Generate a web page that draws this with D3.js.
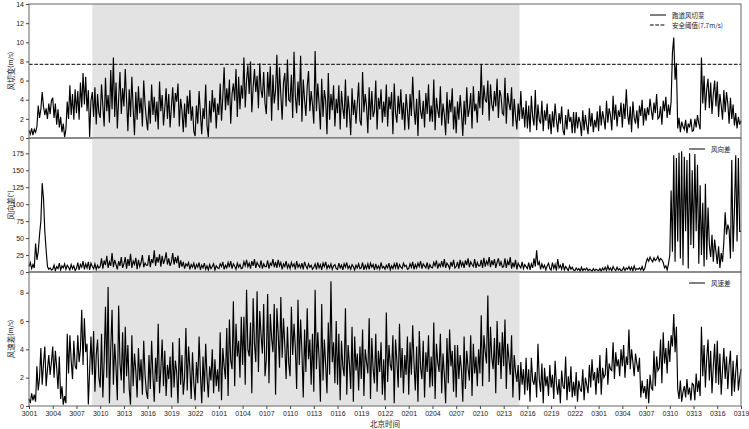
<!DOCTYPE html>
<html>
<head>
<meta charset="utf-8">
<script src="https://cdn.jsdelivr.net/npm/d3@7/dist/d3.min.js"></script>
<style>
  body { margin: 0; background: #fff; }
  text { font-family: "Liberation Sans", Arial, sans-serif; fill: #222; }
  .cjk { font-family: "Noto Sans CJK SC", sans-serif; }
</style>
</head>
<body>
<svg id="chart" width="749" height="429"></svg>
<script>
// x tick labels, one every 3 hours (DDHH)
var tickLabels = ["3001","3004","3007","3010","3013","3016","3019","3022",
  "0101","0104","0107","0110","0113","0116","0119","0122",
  "0201","0204","0207","0210","0213","0216","0219","0222",
  "0301","0304","0307","0310","0313","0316","0319"];

var shadeFrom = 8, shadeTo = 62;   // hours after 3001, grey band
var threshold = 7.7;
var step = 1 / 6;                  // 10 minute readings

// each line = 3 hours
var shear = [
  0.8,0.4,1.0,0.3,0.9,0.6,1.2,3.4,2.1,3.0,4.8,3.3,2.4,3.1,2.0,3.6,2.5,3.9,
  4.2,2.1,3.6,1.4,3.0,1.1,2.2,0.6,1.5,0.1,0.9,3.8,2.0,5.5,2.4,4.6,1.9,5.1,
  2.6,4.9,1.9,5.8,3.2,6.8,3.5,6.4,2.8,5.0,0.1,3.9,4.8,2.2,5.3,1.4,4.6,2.6,
  2.1,5.6,3.4,1.2,6.3,2.8,4.5,1.6,7.1,3.0,8.4,2.2,5.8,1.0,4.1,6.9,2.5,5.2,
  3.3,7.2,4.0,0.7,5.1,2.2,6.4,3.1,0.3,4.8,1.9,5.4,2.6,4.2,1.2,6.0,3.5,2.0,
  0.8,3.9,1.5,5.6,2.4,4.3,1.7,3.8,0.9,5.9,2.8,4.5,1.3,3.1,5.2,2.0,4.6,1.1,
  3.2,5.3,2.1,4.7,3.8,5.7,1.2,4.1,2.9,0.6,3.6,1.1,4.4,2.5,5.0,1.8,3.3,0.7,
  0.2,3.4,1.5,4.9,2.6,0.4,3.1,2.0,5.6,1.3,0.1,3.9,1.6,5.0,2.7,4.2,1.0,3.6,
  2.4,5.7,1.8,4.3,7.4,2.9,5.2,3.4,6.1,1.5,4.6,5.7,3.9,7.2,2.2,6.4,3.0,5.5,
  4.1,8.4,3.2,6.0,7.6,4.6,8.0,2.7,5.3,7.2,4.8,6.5,3.1,7.8,5.0,4.2,6.9,3.6,
  2.5,6.9,4.3,7.5,1.8,6.6,3.6,5.0,8.7,2.9,7.4,4.5,1.9,5.8,6.8,3.3,8.2,4.0,
  3.8,6.6,2.1,9.0,4.4,2.6,5.9,3.4,8.6,1.7,6.1,4.0,2.3,5.4,7.0,2.8,4.9,3.5,
  1.5,9.1,2.8,5.7,3.6,0.9,6.2,2.2,5.0,3.9,0.4,6.8,1.9,4.6,2.9,5.5,1.2,4.1,
  2.6,5.5,0.9,4.9,3.1,2.0,6.1,1.1,4.4,2.7,0.3,5.2,2.4,4.0,1.5,3.6,5.8,1.8,
  1.3,6.9,2.7,4.6,3.3,0.5,5.3,1.9,4.9,2.2,2.8,6.0,0.9,4.2,3.0,5.1,1.6,3.8,
  2.2,5.6,1.2,4.3,3.0,4.8,0.4,5.7,2.6,1.6,4.4,2.5,5.1,1.9,3.7,0.8,4.6,2.9,
  0.9,4.6,2.3,6.4,3.1,1.4,4.1,0.2,5.0,2.8,2.0,3.9,1.1,4.7,2.5,5.6,1.7,3.4,
  1.7,6.1,0.8,4.2,2.9,2.1,5.4,1.3,3.6,2.4,0.3,4.8,1.5,4.0,2.7,5.2,0.9,3.3,
  0.5,3.8,1.9,4.5,2.6,0.2,3.9,1.4,5.3,2.2,3.0,4.7,1.0,5.4,2.8,3.6,1.6,4.9,
  3.1,7.7,2.4,5.5,4.0,3.7,6.0,1.8,5.6,3.5,2.8,4.9,3.3,6.2,2.1,5.0,4.4,2.6,
  2.4,6.3,1.5,4.7,3.6,2.9,5.3,1.2,4.1,2.3,0.9,3.6,1.8,4.9,2.0,3.2,1.1,3.9,
  1.0,3.4,0.6,4.4,2.2,1.3,5.0,0.8,3.5,1.9,1.5,3.9,0.7,2.9,1.8,3.6,0.9,2.5,
  0.4,2.8,1.1,3.6,1.9,0.6,2.6,1.5,3.3,0.8,0.3,2.4,0.9,3.0,1.7,2.2,0.5,2.7,
  0.5,2.7,1.0,2.2,1.6,0.2,2.9,0.8,2.4,1.3,0.4,3.1,1.2,2.6,0.6,1.9,1.1,2.8,
  0.7,3.4,1.3,2.8,2.0,0.9,3.9,1.6,3.1,2.4,0.8,4.4,1.9,3.5,1.2,2.9,2.2,3.7,
  1.1,3.6,2.0,5.1,2.5,1.4,3.3,0.6,3.8,2.1,1.5,2.9,1.0,3.4,2.3,4.0,1.3,3.1,
  1.8,3.2,2.4,4.1,2.9,1.9,3.7,2.6,4.6,2.0,2.2,3.3,1.4,3.9,2.8,4.3,2.1,3.5,
  2.4,3.8,8.9,10.5,6.1,7.8,1.0,2.1,0.6,1.7,1.2,0.9,1.9,0.5,1.5,1.1,2.0,0.7,
  0.8,2.0,1.1,2.4,1.5,0.9,8.4,3.6,6.5,2.9,5.1,6.2,3.1,5.8,2.5,4.6,6.0,3.3,
  5.9,2.2,4.6,3.4,1.9,5.0,2.7,4.8,3.6,1.5,4.2,2.0,3.5,1.3,2.6,1.0,2.2,1.4,
  1.8];

var dirDiff = [
  8,14,5,11,6,42,18,30,55,75,131,108,60,32,8,4,6,3,
  4,10,2,8,5,13,3,9,6,12,4,10,7,3,11,5,9,2,
  5,14,3,11,7,16,4,12,6,15,3,13,8,5,12,4,10,6,
  8,20,5,17,10,24,6,15,9,28,7,18,11,4,16,9,22,6,
  12,22,5,19,9,27,6,16,11,21,4,18,8,14,25,7,13,10,
  10,25,7,19,13,32,9,22,14,26,8,24,12,18,29,11,20,9,
  15,28,11,22,13,24,6,17,8,15,5,12,9,14,4,11,7,13,
  4,11,7,14,3,10,6,13,4,9,3,11,5,8,12,3,9,6,
  5,12,8,15,4,10,6,14,7,16,5,12,9,4,13,7,11,5,
  6,15,9,18,8,13,5,16,9,19,6,14,10,7,17,5,12,8,
  8,17,5,13,10,19,7,15,6,18,9,14,4,12,8,16,6,11,
  5,14,8,12,4,16,7,11,6,13,4,15,9,5,12,7,10,4,
  7,12,4,14,6,11,3,13,8,15,5,10,6,12,4,9,11,5,
  4,13,6,10,3,12,7,14,5,9,4,11,8,3,10,6,12,5,
  6,14,3,10,5,12,4,13,7,11,3,12,5,9,4,14,6,8,
  4,10,6,13,3,9,5,12,6,14,4,11,7,5,13,8,10,4,
  5,12,7,15,4,11,6,13,8,16,5,12,9,6,14,4,11,7,
  6,14,9,17,5,12,8,16,7,19,6,13,10,5,15,8,18,6,
  8,15,5,18,9,14,6,17,10,20,7,15,11,8,19,6,14,9,
  9,18,6,21,8,16,11,22,7,17,10,19,6,14,20,9,15,7,
  8,20,6,16,10,22,5,14,7,18,4,13,9,6,15,5,11,8,
  5,14,3,12,6,20,8,32,10,15,4,12,6,10,3,9,13,5,
  3,14,5,11,2,19,6,10,4,13,3,8,5,2,9,4,7,3,
  2,6,3,5,1,7,2,5,3,6,2,4,3,1,5,2,4,3,
  2,5,1,6,3,7,2,9,3,6,2,8,4,2,7,3,5,2,
  3,7,2,6,4,8,3,7,2,9,3,5,4,6,3,8,2,5,
  14,20,16,22,18,15,21,17,19,23,16,20,18,14,6,9,3,12,
  25,120,30,172,15,168,45,176,20,178,10,170,60,165,5,175,40,150,
  35,174,60,158,12,128,25,102,8,130,18,95,40,22,55,15,48,30,
  12,38,6,28,15,45,88,55,70,62,20,165,30,90,172,45,168,60,
  60];

var spdDiff = [
  0.5,0.2,0.9,0.4,0.8,0.3,2.8,1.1,2.0,4.1,1.5,3.0,4.2,1.4,2.6,3.6,2.2,3.1,
  4.2,2.0,3.9,2.7,1.2,3.5,0.5,1.4,0.1,0.7,0.2,5.1,2.3,5.0,3.2,1.9,4.6,2.8,
  2.6,5.0,3.1,4.0,6.8,2.9,6.2,3.8,4.4,0.1,2.5,4.9,2.2,5.3,1.0,3.6,4.7,2.0,
  1.3,5.1,0.6,3.2,7.0,2.0,8.4,0.2,4.1,6.8,1.5,4.4,2.7,0.4,7.1,3.0,1.8,5.2,
  0.9,5.6,2.1,4.3,1.2,0.1,5.0,1.4,3.7,2.5,0.6,4.1,1.8,3.3,0.8,4.6,2.2,1.0,
  0.5,3.6,1.2,4.6,2.1,0.3,3.4,1.7,5.8,0.9,2.6,4.7,1.4,3.9,0.7,2.9,1.9,3.5,
  0.6,4.5,1.3,3.2,2.4,0.2,4.8,1.5,3.6,0.8,2.0,5.5,1.1,4.2,2.7,0.5,3.8,1.6,
  0.4,3.1,1.6,4.9,2.3,0.2,3.5,1.0,4.4,2.1,0.6,2.8,1.8,4.0,0.9,3.3,1.4,2.6,
  1.0,5.2,0.4,4.1,2.8,1.9,5.5,0.7,6.1,3.2,2.6,7.4,1.4,5.8,3.5,4.6,2.0,6.3,
  2.9,6.3,1.5,8.2,4.0,3.5,5.9,0.9,7.6,4.4,3.1,8.1,2.4,6.7,5.0,3.7,7.2,2.1,
  3.3,7.9,1.6,6.5,4.8,3.8,7.2,0.8,6.9,5.1,2.7,7.7,3.4,6.2,4.3,1.9,5.6,3.0,
  2.1,7.0,3.6,5.8,4.1,1.2,7.5,2.9,6.1,3.8,0.6,5.4,2.4,6.9,3.3,4.7,1.5,5.1,
  1.0,8.2,2.6,5.2,3.4,0.3,7.2,1.8,4.7,2.9,0.9,5.9,2.2,8.8,3.1,4.5,1.6,6.0,
  1.5,5.1,0.4,4.6,2.8,2.1,6.9,0.8,4.3,3.0,1.2,5.6,0.3,4.9,2.5,3.7,1.1,4.2,
  1.9,5.4,0.7,4.0,3.1,2.3,6.2,0.5,4.8,2.6,1.6,5.1,1.0,3.9,2.4,4.5,0.8,3.3,
  0.4,6.6,1.7,4.3,2.9,2.5,5.0,0.2,4.7,3.2,1.3,5.8,2.0,4.1,0.9,3.6,2.2,4.9,
  0.8,4.5,2.2,5.7,3.0,1.1,4.2,0.3,5.3,2.7,1.9,4.6,0.6,3.8,2.4,5.0,1.3,3.5,
  1.4,5.9,0.5,4.4,3.1,2.4,5.1,0.9,3.7,2.2,0.2,4.8,1.6,5.4,2.8,3.9,1.0,4.3,
  0.6,4.3,1.9,3.6,2.5,0.3,4.9,1.2,3.9,2.7,1.8,5.0,0.7,4.4,2.3,3.5,1.4,4.0,
  2.3,6.4,1.4,5.0,3.8,3.0,7.8,1.7,5.6,3.4,2.6,4.8,0.9,6.0,2.9,4.5,1.9,5.2,
  2.8,6.1,1.2,4.4,3.3,2.2,5.0,0.6,3.6,2.4,1.7,2.9,0.4,3.1,1.5,2.6,0.8,3.4,
  1.1,2.6,0.3,3.4,1.8,1.5,2.4,0.6,4.4,1.9,1.0,3.0,0.2,2.7,1.4,2.1,0.7,2.9,
  1.3,2.2,0.5,3.2,1.6,0.8,1.9,0.2,2.5,1.4,1.2,3.5,0.4,2.1,1.0,2.8,0.6,1.7,
  0.7,2.4,0.3,1.8,1.2,1.0,2.6,0.4,2.0,1.5,0.9,2.9,1.3,3.3,1.8,2.4,0.8,2.7,
  1.6,3.6,0.8,2.7,2.0,2.2,4.1,1.5,3.0,2.6,2.5,4.5,1.9,3.8,2.8,3.3,2.1,4.0,
  2.8,4.3,2.0,3.5,2.9,5.4,2.6,4.0,3.1,2.1,3.7,3.0,2.4,3.4,0.6,1.8,0.9,1.4,
  0.5,1.9,0.2,2.2,1.3,1.1,3.9,1.4,3.5,2.5,2.7,4.7,1.6,5.2,3.0,4.1,2.3,4.6,
  3.1,5.0,4.2,6.5,3.8,5.6,1.2,0.5,1.8,0.3,1.0,1.4,0.6,1.9,0.8,1.3,0.4,1.6,
  1.5,0.4,2.3,1.0,1.8,0.7,5.6,2.1,4.3,1.3,3.4,4.7,1.8,3.9,0.9,2.8,4.4,1.6,
  4.6,1.5,3.7,0.8,2.6,4.1,1.9,3.5,1.2,2.9,3.9,0.7,3.2,1.0,2.4,3.6,1.1,2.0,
  2.6];

var left = 29, right = 741;
var svg = d3.select("#chart");

var x = d3.scaleLinear().domain([0, 90]).range([left, right]);

var panels = [
  {top: 4, height: 134, data: shear, max: 14, ticks: d3.range(0, 15, 2),
   label: "风切变", unit: "(m/s)",
   legend: [{name: "跑道风切变", unit: "", dash: null}, {name: "安全阈值", unit: "(7.7m/s)", dash: "3.7,1.6"}],
   legendX: 650, threshold: true},
  {top: 138, height: 134, data: dirDiff, max: 197.6, ticks: d3.range(0, 176, 25),
   label: "风向差", unit: "(°)",
   legend: [{name: "风向差", unit: "", dash: null}], legendX: 689},
  {top: 272, height: 134, data: spdDiff, max: 9.46, ticks: d3.range(0, 9, 2),
   label: "风速差", unit: "(m/s)",
   legend: [{name: "风速差", unit: "", dash: null}], legendX: 689, xAxis: true}
];

panels.forEach(function(p) {
  var y = d3.scaleLinear().domain([0, p.max]).range([p.top + p.height, p.top]);
  var g = svg.append("g");

  g.append("rect")
    .attr("x", x(shadeFrom)).attr("y", p.top)
    .attr("width", x(shadeTo) - x(shadeFrom)).attr("height", p.height)
    .attr("fill", "#e3e3e3");

  var line = d3.line()
    .x(function(d, i) { return x(i * step); })
    .y(function(d) { return y(d); });

  g.append("path")
    .datum(p.data)
    .attr("d", line)
    .attr("fill", "none")
    .attr("stroke", "#000")
    .attr("stroke-width", 1.15)
    .attr("stroke-linejoin", "miter");

  if (p.threshold) {
    g.append("line")
      .attr("x1", left).attr("x2", right)
      .attr("y1", y(threshold)).attr("y2", y(threshold))
      .attr("stroke", "#000").attr("stroke-width", 1)
      .attr("stroke-dasharray", "3.7,1.6");
  }

  g.append("rect")
    .attr("x", left).attr("y", p.top)
    .attr("width", right - left).attr("height", p.height)
    .attr("fill", "none").attr("stroke", "#666").attr("stroke-width", 1);

  var yAxis = d3.axisLeft(y).tickValues(p.ticks).tickSize(3).tickPadding(2);
  var ya = g.append("g").attr("transform", "translate(" + left + ",0)").call(yAxis);
  ya.select(".domain").remove();
  ya.selectAll("line").attr("stroke", "#444");
  ya.selectAll("text").attr("font-size", 7).attr("fill", "#222")
    .style("font-family", "'Liberation Sans', Arial, sans-serif");

  var cy = p.top + p.height / 2;
  var lab = g.append("text")
    .attr("transform", "translate(10," + cy + ") rotate(-90)")
    .attr("text-anchor", "middle")
    .attr("dominant-baseline", "central")
    .attr("class", "cjk");
  lab.append("tspan").attr("font-size", 7.5).text(p.label);
  lab.append("tspan").attr("font-size", 6.5).text(p.unit);

  // legend
  p.legend.forEach(function(l, li) {
    var ly = p.top + 11 + li * 10;
    g.append("line")
      .attr("x1", p.legendX).attr("x2", p.legendX + 16)
      .attr("y1", ly).attr("y2", ly)
      .attr("stroke", "#000").attr("stroke-width", 1)
      .attr("stroke-dasharray", l.dash);
    var t = g.append("text")
      .attr("x", p.legendX + 22).attr("y", ly)
      .attr("dominant-baseline", "central")
      .attr("class", "cjk");
    t.append("tspan").attr("font-size", 6.5).text(l.name);
    if (l.unit) t.append("tspan").attr("font-size", 6.5).text(l.unit);
  });

  if (p.xAxis) {
    var xAxis = d3.axisBottom(x)
      .tickValues(d3.range(0, 91, 3))
      .tickFormat(function(d, i) { return tickLabels[i]; })
      .tickSize(3).tickPadding(2);
    var xa = g.append("g").attr("transform", "translate(0," + (p.top + p.height) + ")").call(xAxis);
    xa.select(".domain").remove();
    xa.selectAll("line").attr("stroke", "#444");
    xa.selectAll("text").attr("font-size", 7).attr("fill", "#222")
      .style("font-family", "'Liberation Sans', Arial, sans-serif");
  }
});

svg.append("text")
  .attr("x", (left + right) / 2).attr("y", 427)
  .attr("text-anchor", "middle")
  .attr("class", "cjk")
  .attr("font-size", 7.5)
  .text("北京时间");
</script>
</body>
</html>
